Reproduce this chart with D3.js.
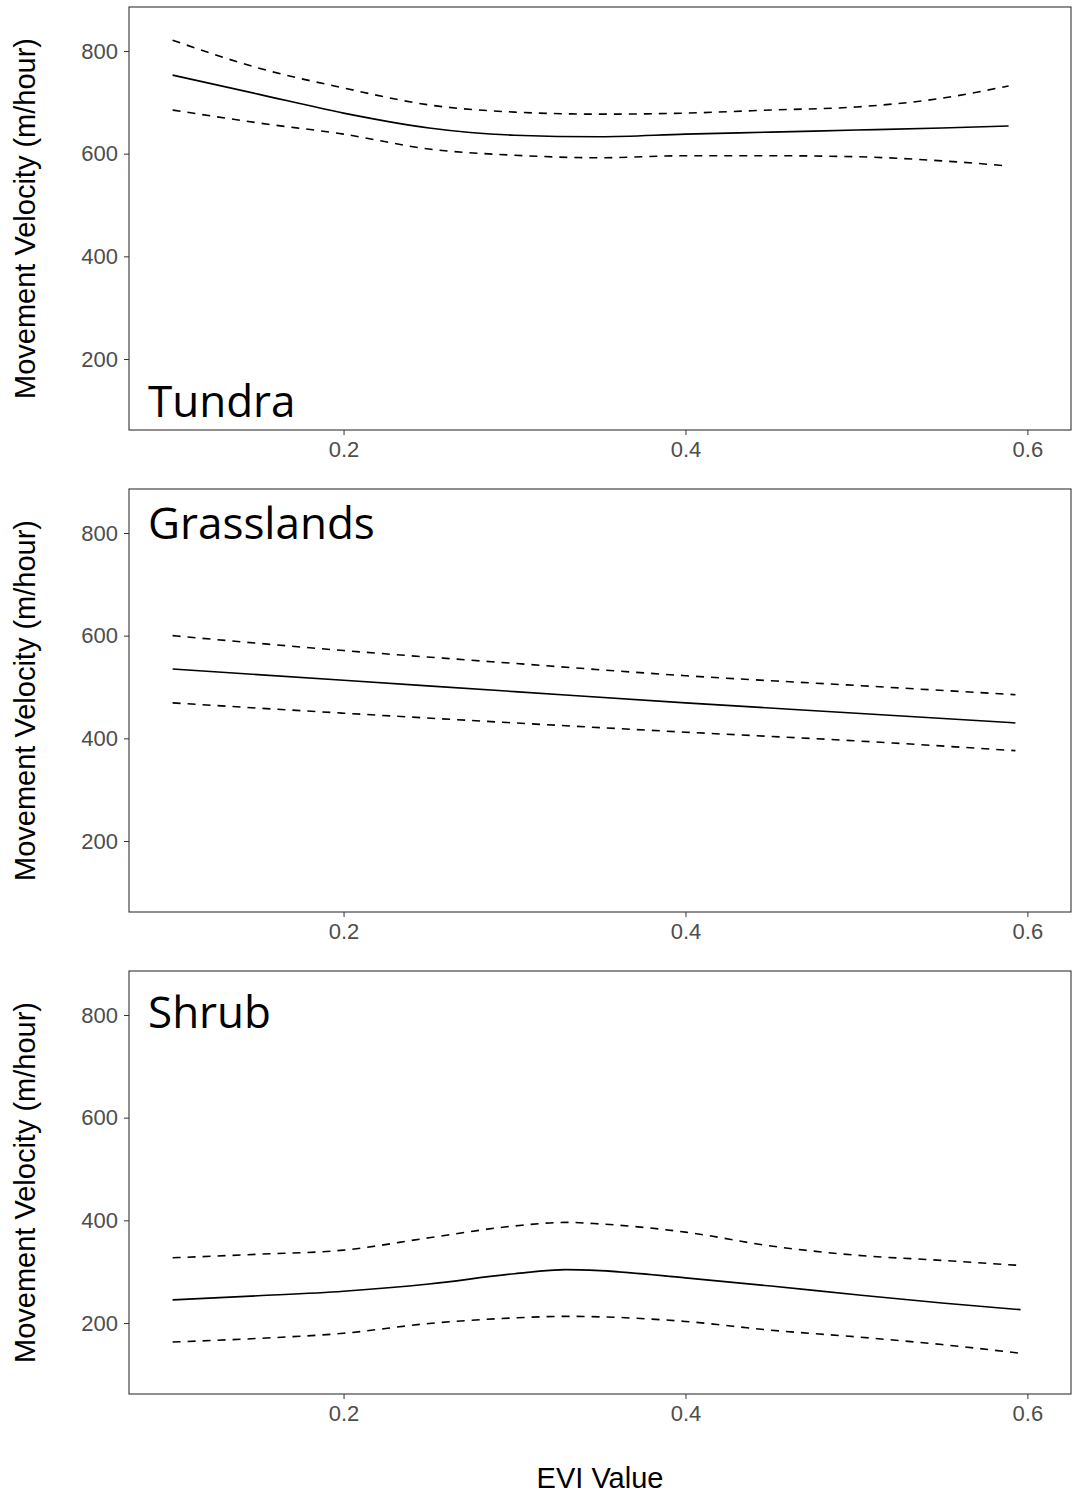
<!DOCTYPE html>
<html>
<head>
<meta charset="utf-8">
<script src="https://cdn.jsdelivr.net/npm/d3@7"></script>
<style>
body { margin: 0; background: #fff; }
svg { display: block; }
</style>
</head>
<body>
<script>
// values (EVI vs movement velocity, fit + 95% band)
var tundraX     = [0.10, 0.15, 0.20, 0.25, 0.30, 0.35, 0.40, 0.45, 0.50, 0.55, 0.589];
var tundraFit   = [753, 716, 679, 650, 636, 633, 638, 642, 646, 650, 654];
var tundraUpper = [821, 767, 728, 695, 681, 677, 679, 685, 691, 708, 732];
var tundraLower = [685, 660, 638, 609, 597, 592, 596, 596, 594, 586, 576];

var grassX     = [0.10, 0.20, 0.30, 0.40, 0.50, 0.593];
var grassFit   = [535, 513, 491, 469, 449, 430];
var grassUpper = [600, 571, 546, 522, 503, 485];
var grassLower = [469, 449, 430, 412, 395, 376];

var shrubX     = [0.10, 0.15, 0.20, 0.25, 0.30, 0.33, 0.35, 0.40, 0.45, 0.50, 0.55, 0.596];
var shrubFit   = [245, 253, 262, 276, 296, 304, 302, 288, 272, 255, 239, 226];
var shrubUpper = [327, 334, 342, 366, 389, 396, 393, 377, 350, 332, 322, 312];
var shrubLower = [163, 170, 180, 199, 210, 213, 212, 203, 186, 173, 158, 141];

var panelNames = ["Tundra", "Grasslands", "Shrub"];
var xTicks = [0.2, 0.4, 0.6];
var yTicks = [200, 400, 600, 800];

var width = 1073;
var height = 1494;
var left = 129, right = 1071;
var panelTops = [7, 489, 971];
var panelH = 423;

var panels = [
    { name: panelNames[0], x: tundraX, fit: tundraFit, upper: tundraUpper, lower: tundraLower, labelY: 417 },
    { name: panelNames[1], x: grassX, fit: grassFit, upper: grassUpper, lower: grassLower, labelY: 539 },
    { name: panelNames[2], x: shrubX, fit: shrubFit, upper: shrubUpper, lower: shrubLower, labelY: 1028 }
];

var svg = d3.select("body").append("svg")
    .attr("width", width)
    .attr("height", height);

var x = d3.scaleLinear().domain([0.0745, 0.6255]).range([left, right]);

panels.forEach(function (p, i) {
    var top = panelTops[i];
    var y = d3.scaleLinear().domain([61.7, 885.7]).range([top + panelH, top]);
    var g = svg.append("g");

    var line = d3.line()
        .x(function (d) { return x(d[0]); })
        .y(function (d) { return y(d[1]); })
        .curve(d3.curveMonotoneX);

    function pts(vals) { return p.x.map(function (v, j) { return [v, vals[j]]; }); }

    g.append("path").attr("d", line(pts(p.upper)))
        .attr("fill", "none").attr("stroke", "#000").attr("stroke-width", 1.6)
        .attr("stroke-dasharray", "8,7");
    g.append("path").attr("d", line(pts(p.lower)))
        .attr("fill", "none").attr("stroke", "#000").attr("stroke-width", 1.6)
        .attr("stroke-dasharray", "8,7");
    g.append("path").attr("d", line(pts(p.fit)))
        .attr("fill", "none").attr("stroke", "#000").attr("stroke-width", 1.6);

    // axes
    var xAxis = g.append("g")
        .attr("transform", "translate(0," + (top + panelH) + ")")
        .call(d3.axisBottom(x).tickValues(xTicks).tickSize(5).tickPadding(6).tickFormat(d3.format(".1f")));
    var yAxis = g.append("g")
        .attr("transform", "translate(" + left + ",0)")
        .call(d3.axisLeft(y).tickValues(yTicks).tickSize(5).tickPadding(6));
    [xAxis, yAxis].forEach(function (a) {
        a.select(".domain").remove();
        a.selectAll(".tick line").attr("stroke", "#333");
        a.selectAll(".tick text")
            .attr("fill", "#4d4d4d")
            .style("font-family", "'Liberation Sans', Arial, sans-serif")
            .style("font-size", "22px");
    });

    g.append("rect")
        .attr("x", left).attr("y", top)
        .attr("width", right - left).attr("height", panelH)
        .attr("fill", "none").attr("stroke", "#333").attr("stroke-width", 1.1);

    g.append("text")
        .attr("x", 148).attr("y", p.labelY)
        .text(p.name)
        .style("font-family", "'Open Sans', 'Noto Sans', sans-serif")
        .style("font-size", "44px")
        .attr("fill", "#000");

    g.append("text")
        .attr("transform", "translate(35," + (top + panelH / 2) + ") rotate(-90)")
        .attr("text-anchor", "middle")
        .text("Movement Velocity (m/hour)")
        .style("font-family", "'Liberation Sans', Arial, sans-serif")
        .style("font-size", "29px")
        .attr("fill", "#000");
});

svg.append("text")
    .attr("x", (left + right) / 2).attr("y", 1488)
    .attr("text-anchor", "middle")
    .text("EVI Value")
    .style("font-family", "'Liberation Sans', Arial, sans-serif")
    .style("font-size", "29px")
    .attr("fill", "#000");
</script>
</body>
</html>
